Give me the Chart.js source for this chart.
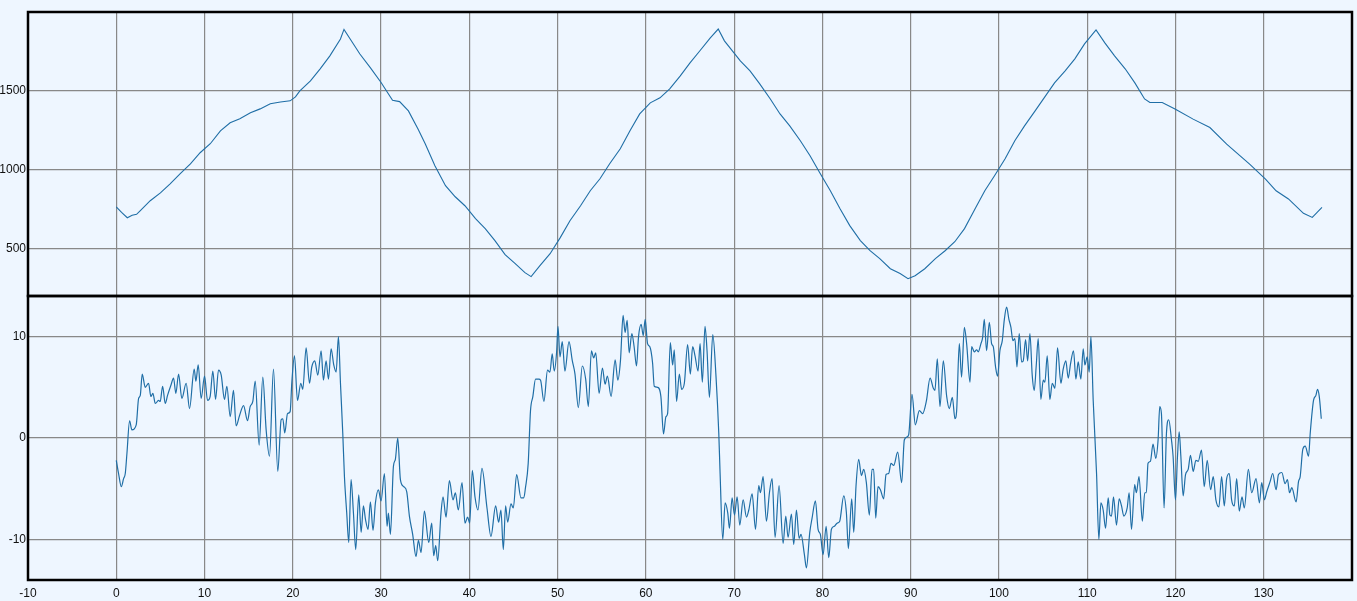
<!DOCTYPE html>
<html>
<head>
<meta charset="utf-8">
<script src="https://cdn.jsdelivr.net/npm/chart.js@4/dist/chart.umd.min.js"></script>
<style>
  html, body { margin: 0; padding: 0; background: #eef6ff; }
  #wrap { width: 1357px; height: 601px; position: relative; }
</style>
</head>
<body>
<div id="wrap"><canvas id="c" width="1357" height="601"></canvas></div>
<script>
// ---- Data ----
const topX = [0,0.6,1.25,1.8,2.3,2.7,3.85,5.0,6.1,7.25,8.4,9.5,10.65,11.8,12.9,14.0,15.2,16.3,17.45,18.6,19.7,20.3,20.8,22.0,23.1,24.2,25.4,25.8,26.5,27.6,28.8,30.0,31.3,32.1,33.1,34.2,35.0,36.1,37.3,38.4,39.5,40.7,41.8,42.9,44.05,45.2,46.3,47.0,48.0,49.15,50.3,51.4,52.6,53.7,54.8,55.9,57.1,58.2,59.3,60.5,61.6,62.7,63.9,65.0,66.1,67.3,68.2,68.9,70.7,71.8,72.9,74.1,75.2,76.3,77.5,78.6,79.7,80.9,82.0,83.1,84.3,85.4,86.5,87.7,88.8,89.7,90.5,91.6,92.8,93.9,95.0,96.1,97.3,98.4,99.5,100.7,101.8,102.9,104.1,105.2,106.3,107.5,108.6,109.7,111.0,112.0,113.1,114.3,115.4,116.5,117.1,118.5,120.0,122.0,123.9,125.8,128.4,130.2,131.4,132.8,134.5,135.5,136.6];
const topY = [765,730,696,712,718,740,804,854,911,975,1038,1108,1165,1247,1298,1323,1361,1386,1418,1430,1437,1462,1500,1563,1640,1722,1829,1890,1829,1734,1646,1553,1441,1432,1373,1257,1165,1025,899,829,772,690,627,551,462,405,348,323,392,468,570,677,772,867,943,1038,1133,1247,1354,1424,1456,1513,1595,1677,1753,1836,1892,1817,1690,1627,1544,1449,1354,1278,1184,1089,981,867,753,646,551,487,437,373,342,310,329,373,437,487,544,627,753,867,962,1070,1184,1278,1373,1462,1551,1627,1703,1798,1886,1804,1722,1640,1551,1449,1426,1426,1384,1321,1268,1162,1036,941,867,815,724,698,761];

const botX = [0,0.26,0.57,0.83,1.02,1.21,1.51,1.77,2.26,2.53,2.72,2.94,3.28,3.66,3.92,4.15,4.42,4.79,4.98,5.25,5.55,5.81,6.19,6.49,6.75,7.06,7.43,7.92,8.30,8.83,9.02,9.28,9.62,10.0,10.34,10.64,10.94,11.25,11.58,11.89,12.26,12.53,12.91,13.28,13.58,13.96,14.42,14.87,15.17,15.47,15.74,16.19,16.60,16.98,17.36,17.81,18.30,18.68,18.87,19.09,19.40,19.70,19.89,20.19,20.53,20.91,21.13,21.51,21.89,22.15,22.49,22.83,23.21,23.47,23.77,24.04,24.34,24.64,24.91,25.17,25.40,25.66,25.85,26.11,26.34,26.60,26.87,27.13,27.47,27.74,28.0,28.23,28.53,28.79,29.09,29.36,29.70,30.0,30.38,30.68,30.83,31.06,31.40,31.62,31.89,32.19,32.57,32.91,33.21,33.58,33.96,34.23,34.53,34.91,35.40,35.74,35.96,36.19,36.42,36.79,37.02,37.36,37.74,38.15,38.42,38.75,39.17,39.51,39.81,40.04,40.34,40.64,40.98,41.43,42.0,42.45,42.98,43.32,43.58,43.85,44.11,44.34,44.72,44.98,45.36,45.85,46.17,46.36,46.67,46.93,47.2,47.5,47.88,48.07,48.45,48.86,49.13,49.39,49.62,49.89,50.04,50.27,50.53,50.83,51.29,51.67,51.97,52.35,52.8,53.18,53.48,53.83,54.09,54.32,54.7,55.08,55.38,55.64,56.06,56.52,56.82,57.12,57.42,57.65,57.88,58.11,58.41,58.67,58.94,59.17,59.47,59.7,59.92,60.19,60.45,60.76,60.95,61.33,61.7,62.0,62.27,62.46,62.77,63.03,63.22,63.48,63.79,64.05,64.36,64.73,65.04,65.3,65.57,65.91,66.14,66.4,66.7,66.93,67.2,67.58,67.95,68.26,68.41,68.71,68.98,69.28,69.47,69.77,70.04,70.34,70.64,71.02,71.4,71.66,72.04,72.42,72.79,72.98,73.28,73.66,74.0,74.3,74.64,75.09,75.55,75.85,76.11,76.49,76.75,77.06,77.36,77.58,77.96,78.19,78.57,78.83,79.21,79.51,79.77,80.08,80.42,80.72,81.02,81.36,81.66,81.96,82.42,82.72,82.94,83.32,83.55,83.81,84.11,84.42,84.68,84.98,85.32,85.62,85.81,86.04,86.3,86.57,86.94,87.21,87.51,87.77,88.08,88.53,88.98,89.28,89.58,89.77,90.15,90.53,90.98,91.36,91.77,92.2,92.57,92.75,93.02,93.32,93.7,94.08,94.38,94.72,95.02,95.21,95.51,95.77,96.08,96.34,96.72,96.91,97.21,97.47,97.66,97.96,98.15,98.34,98.6,98.91,99.17,99.36,99.62,99.85,100.11,100.38,100.6,100.87,101.13,101.36,101.58,101.81,102.04,102.3,102.57,102.75,103.02,103.25,103.51,103.77,104.0,104.23,104.45,104.75,105.02,105.21,105.47,105.77,106.04,106.34,106.64,107.02,107.28,107.58,107.85,108.11,108.45,108.72,108.98,109.28,109.55,109.74,110.0,110.23,110.42,110.68,111.06,111.32,111.55,111.81,112.08,112.38,112.57,112.75,112.98,113.32,113.62,113.89,114.15,114.53,114.75,115.02,115.38,115.57,115.87,116.25,116.52,116.7,116.89,117.16,117.46,117.77,118.03,118.22,118.41,118.71,118.98,119.24,119.55,119.73,120.0,120.23,120.42,120.61,120.87,121.14,121.44,121.7,122.01,122.31,122.58,122.95,123.26,123.6,123.98,124.28,124.58,124.92,125.23,125.53,125.8,126.1,126.36,126.67,126.93,127.23,127.54,127.8,128.26,128.64,129.13,129.51,129.77,130.08,130.34,130.72,131.02,131.4,131.67,132.05,132.42,132.69,132.92,133.18,133.67,133.94,134.13,134.43,134.7,135.08,135.27,135.64,135.91,136.1,136.29,136.52];
const botY = [-2.2,-3.5,-4.8,-4.0,-3.5,-1.5,1.7,0.8,1.3,3.9,4.2,6.3,5.0,5.4,4.1,4.4,3.4,3.7,3.6,5.1,3.4,4.2,5.2,5.9,4.4,6.3,3.9,5.4,2.9,6.8,5.6,7.2,3.9,6.1,3.7,4.1,6.6,3.8,6.7,6.2,3.8,5.1,2.1,4.7,1.2,2.2,3.2,1.7,3.1,3.6,5.6,-0.7,6.0,0.8,-1.8,6.8,-3.3,1.8,1.9,0.5,2.4,2.6,5.5,8.1,3.7,5.4,4.8,8.9,5.4,7.0,7.6,6.2,8.6,5.7,7.6,5.8,8.8,7.2,6.5,10.0,5.4,0.5,-3.8,-7.4,-10.3,-4.1,-7.4,-11.0,-5.6,-9.3,-6.7,-8.0,-9.0,-6.3,-9.1,-6.4,-5.1,-6.2,-3.5,-8.7,-7.4,-9.5,-2.8,-2.1,0.0,-4.1,-4.8,-5.3,-7.7,-9.5,-11.7,-10.1,-11.3,-7.2,-10.3,-8.4,-11.6,-10.6,-12.1,-7.4,-5.8,-7.8,-4.2,-6.1,-5.4,-7.1,-4.4,-8.4,-7.8,-8.4,-3.2,-5.8,-7.1,-3.0,-6.9,-9.7,-6.7,-8.3,-7.1,-11.0,-6.7,-8.3,-6.5,-6.9,-3.6,-5.9,-5.9,-4.9,-2.5,2.7,4.1,5.8,5.8,5.7,3.6,6.7,6.5,8.3,6.6,8.5,11.0,8.0,9.5,6.6,9.5,7.6,6.3,3.0,7.1,5.8,3.1,8.6,7.9,8.4,4.4,6.9,5.3,6.1,4.1,7.7,5.7,7.6,12.1,10.4,11.6,8.4,10.3,9.0,7.1,10.0,11.2,10.1,11.7,9.3,9.0,7.4,5.1,5.0,4.1,0.4,2.1,2.4,9.4,7.2,8.7,3.6,6.3,4.8,5.4,9.2,6.3,9.0,8.1,6.6,9.3,5.5,11.0,8.6,4.0,10.2,6.0,0.5,-3.5,-10.0,-6.4,-7.4,-8.9,-5.9,-7.6,-5.8,-8.6,-6.1,-7.8,-7.1,-5.5,-9.0,-4.7,-5.4,-3.8,-8.2,-5.4,-4.0,-9.8,-4.7,-10.4,-7.7,-9.8,-7.5,-10.5,-7.1,-9.9,-9.5,-11.5,-12.8,-9.3,-7.9,-6.2,-9.0,-9.5,-11.5,-8.7,-11.8,-9.0,-8.7,-8.4,-8.2,-5.7,-7.4,-10.9,-6.0,-9.3,-4.7,-2.1,-3.7,-3.1,-4.4,-7.6,-3.1,-3.1,-7.9,-4.8,-5.1,-6.0,-3.6,-3.5,-2.5,-2.7,-1.4,-4.4,-0.2,0.1,0.3,4.3,1.3,2.7,2.4,3.6,5.9,4.9,4.7,7.8,3.1,7.6,4.1,2.9,4.0,1.9,2.7,9.3,6.0,10.9,9.3,5.5,9.0,8.5,8.7,8.5,9.3,9.9,11.7,8.6,11.4,9.3,9.0,7.0,6.1,8.6,9.6,11.6,12.9,11.7,10.9,9.6,9.8,7.0,10.3,7.5,7.6,9.7,7.6,10.3,6.2,4.7,7.2,9.8,3.8,5.7,5.5,8.1,3.8,5.4,4.9,8.9,5.4,6.8,7.6,5.9,7.3,8.6,5.8,7.5,5.8,8.8,7.2,8.0,6.5,10.0,3.7,-3.5,-10.0,-6.4,-7.1,-8.9,-5.9,-7.6,-7.7,-5.8,-8.6,-6.0,-6.7,-7.7,-6.9,-5.4,-9.0,-4.6,-5.4,-3.8,-8.2,-5.4,-5.4,-2.5,-2.3,-0.6,-2.0,-0.2,3.1,2.4,-6.9,0.5,1.8,-0.2,-1.8,-6.1,-1.8,0.6,-1.8,-5.7,-3.6,-3.1,-1.7,-3.3,-2.2,-2.3,-1.2,-4.8,-2.2,-5.1,-3.8,-6.1,-6.8,-3.8,-6.7,-4.0,-3.5,-6.1,-6.7,-4.0,-7.2,-5.8,-6.9,-3.1,-5.4,-4.0,-6.4,-4.4,-6.1,-5.3,-4.3,-3.5,-5.1,-3.6,-3.4,-4.5,-4.1,-5.4,-4.9,-6.3,-4.3,-3.8,-1.1,-0.8,-1.8,0.5,3.7,4.2,4.8,4.1,1.9];

const xTickVals = [-10,0,10,20,30,40,50,60,70,80,90,100,110,120,130];
const topTickVals = [500,1000,1500];
const botTickVals = [-10,0,10];

// ---- Chart ----
const lineColor = '#1f6ea6';
const gridColor = '#888888';
const font = { family: "'Liberation Sans', Arial, sans-serif", size: 12 };
const plain = v => String(v);

const panelBorders = {
  id: 'panelBorders',
  afterDraw(chart) {
    const ctx = chart.ctx, a = chart.chartArea;
    ctx.save();
    ctx.strokeStyle = '#000';
    ctx.lineWidth = 2.5;
    ['yTop', 'yBot'].forEach(id => {
      const s = chart.scales[id];
      ctx.strokeRect(a.left, s.top, a.right - a.left, s.bottom - s.top);
    });
    ctx.restore();
  }
};

function fixedTicks(vals) {
  return s => { s.ticks = vals.map(v => ({ value: v })); };
}

new Chart(document.getElementById('c'), {
  type: 'line',
  data: {
    datasets: [
      {
        data: topX.map((x, i) => ({ x, y: topY[i] })),
        yAxisID: 'yTop',
        borderColor: lineColor,
        borderWidth: 1.1,
        pointRadius: 0,
        tension: 0
      },
      {
        data: botX.map((x, i) => ({ x, y: botY[i] })),
        yAxisID: 'yBot',
        borderColor: lineColor,
        borderWidth: 1.2,
        pointRadius: 0,
        cubicInterpolationMode: 'monotone'
      }
    ]
  },
  options: {
    responsive: false,
    animation: false,
    events: [],
    layout: { padding: { top: 12, right: 5, left: 0, bottom: 0 } },
    plugins: { legend: { display: false }, tooltip: { enabled: false } },
    scales: {
      x: {
        type: 'linear', min: -10, max: 140,
        afterBuildTicks: fixedTicks(xTickVals),
        afterFit: s => { s.height = 21; },
        grid: { color: gridColor, lineWidth: 1.2, drawTicks: false },
        border: { display: false },
        ticks: { padding: 6, font, color: '#111', maxRotation: 0, autoSkip: false, callback: plain }
      },
      yBot: {
        type: 'linear', position: 'left', stack: 'panels', stackWeight: 1,
        min: -14, max: 14,
        afterBuildTicks: fixedTicks(botTickVals),
        afterFit: s => { s.width = 28; },
        grid: { color: gridColor, lineWidth: 1.2, drawTicks: false },
        border: { display: false },
        ticks: { padding: 2, font, color: '#111', callback: plain }
      },
      yTop: {
        type: 'linear', position: 'left', stack: 'panels', stackWeight: 1,
        min: 200, max: 2000,
        afterBuildTicks: fixedTicks(topTickVals),
        afterFit: s => { s.width = 28; },
        grid: { color: gridColor, lineWidth: 1.2, drawTicks: false },
        border: { display: false },
        ticks: { padding: 2, font, color: '#111', callback: plain }
      }
    }
  },
  plugins: [panelBorders]
});
</script>
</body>
</html>
